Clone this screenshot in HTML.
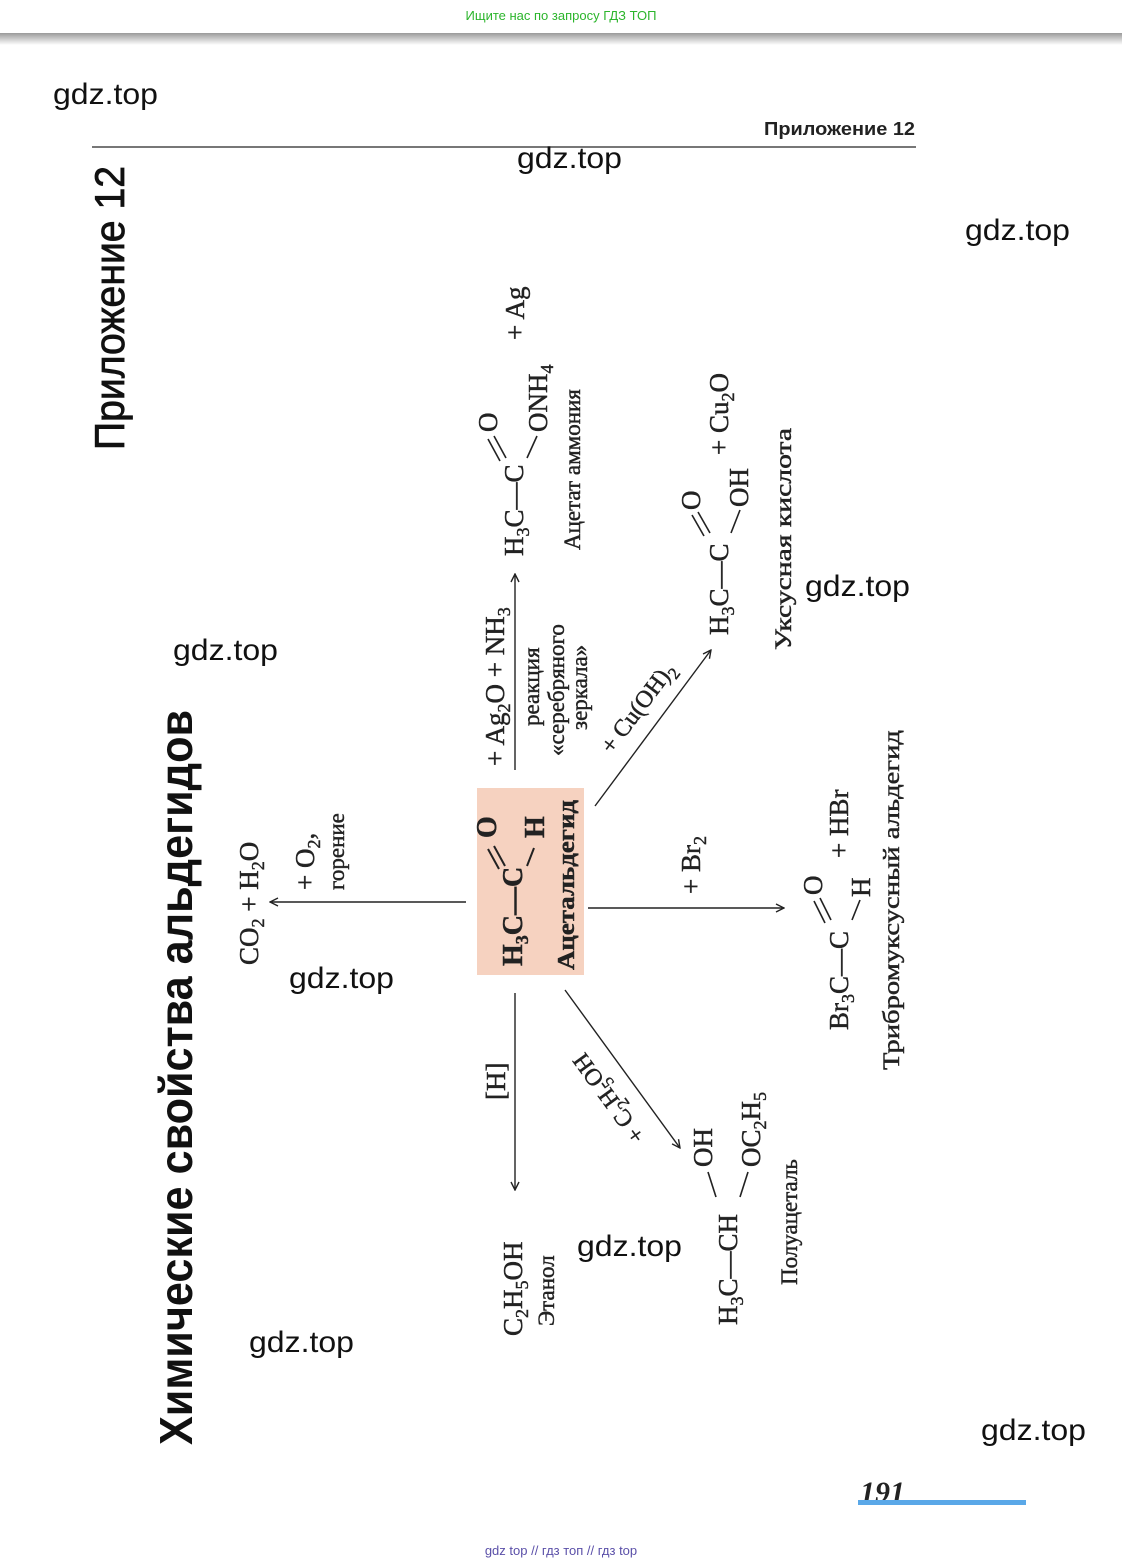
<!DOCTYPE html>
<html><head><meta charset="utf-8"><style>
html,body{margin:0;padding:0;background:#fff;}
body{width:1122px;height:1567px;position:relative;overflow:hidden;}
svg{position:absolute;left:0;top:0;}
.s{font-family:"Liberation Serif",serif;fill:#222;stroke:#222;stroke-width:0.45;}
.b{font-weight:bold;}
.w{font-family:"Liberation Sans",sans-serif;font-size:30px;fill:#111;}
</style></head><body>
<svg width="1122" height="1567" viewBox="0 0 1122 1567" xmlns="http://www.w3.org/2000/svg">
<defs>
<linearGradient id="sh" x1="0" y1="0" x2="0" y2="1"><stop offset="0" stop-color="#9a9a9a"/><stop offset="1" stop-color="#fff"/></linearGradient>
<marker id="ah" viewBox="0 0 10 10" refX="9" refY="5" markerWidth="10" markerHeight="10" orient="auto" markerUnits="userSpaceOnUse"><path d="M1,1 L9,5 L1,9" fill="none" stroke="#222" stroke-width="1.4"/></marker>
</defs>
<rect x="0" y="33" width="1122" height="12" fill="url(#sh)"/>
<text x="561" y="20" text-anchor="middle" font-family="Liberation Sans,sans-serif" font-size="13" fill="#2cb52c">Ищите нас по запросу ГДЗ ТОП</text>
<text x="561" y="1555" text-anchor="middle" font-family="Liberation Sans,sans-serif" font-size="13" fill="#5a4fa8">gdz top  //  гдз топ  //  гдз top</text>

<!-- header -->
<text x="764" y="135" font-family="Liberation Sans,sans-serif" font-weight="bold" font-size="18" fill="#222" textLength="151" lengthAdjust="spacingAndGlyphs">Приложение 12</text>
<line x1="92" y1="147" x2="916" y2="147" stroke="#777" stroke-width="2"/>
<text font-family="Liberation Sans,sans-serif" font-size="42" fill="#111" stroke="#111" stroke-width="0.8" transform="translate(124,450) rotate(-90)" textLength="284" lengthAdjust="spacingAndGlyphs">Приложение 12</text>
<text font-family="Liberation Sans,sans-serif" font-weight="bold" font-size="46" fill="#111" transform="translate(192,1445) rotate(-90)" textLength="735" lengthAdjust="spacingAndGlyphs">Химические свойства альдегидов</text>

<!-- page number -->
<text x="860" y="1502" font-family="Liberation Serif,serif" font-style="italic" font-weight="bold" font-size="30" fill="#222">191</text>
<rect x="858" y="1500" width="168" height="5" fill="#5aa8e8"/>

<!-- central box -->
<rect x="477" y="788" width="107" height="187" fill="#f6d2c0"/>
<g class="s b" font-size="28">
<text transform="translate(522,966) rotate(-90)">H<tspan font-size="18" dy="6">3</tspan><tspan dy="-6">C—C</tspan></text>
<text transform="translate(496,838) rotate(-90)">O</text>
<text transform="translate(544,838) rotate(-90)">H</text>
</g>
<line x1="505" y1="866" x2="494" y2="846" stroke="#222" stroke-width="2"/>
<line x1="499" y1="869" x2="488" y2="849" stroke="#222" stroke-width="2"/>
<line x1="527" y1="866" x2="534" y2="848" stroke="#222" stroke-width="2"/>
<text class="s b" font-size="24" transform="translate(574,970) rotate(-90)" textLength="170" lengthAdjust="spacingAndGlyphs">Ацетальдегид</text>

<!-- arrows -->
<g stroke="#222" stroke-width="1.4" fill="none" marker-end="url(#ah)">
<line x1="466" y1="902" x2="270" y2="902"/>
<line x1="515" y1="770" x2="515" y2="574"/>
<line x1="595" y1="806" x2="711" y2="650"/>
<line x1="588" y1="908" x2="784" y2="908"/>
<line x1="515" y1="993" x2="515" y2="1190"/>
<line x1="565" y1="990" x2="680" y2="1148"/>
</g>

<g class="s" font-size="27">
<text transform="translate(258,965) rotate(-90)">CO<tspan font-size="18" dy="6">2</tspan><tspan dy="-6"> + H</tspan><tspan font-size="18" dy="6">2</tspan><tspan dy="-6">O</tspan></text>
<text transform="translate(314,890) rotate(-90)">+ O<tspan font-size="18" dy="6">2</tspan><tspan dy="-6">,</tspan></text>
<text font-size="23" transform="translate(344,890) rotate(-90)">горение</text>

<text transform="translate(504,766) rotate(-90)">+ Ag<tspan font-size="18" dy="6">2</tspan><tspan dy="-6">O + NH</tspan><tspan font-size="18" dy="6">3</tspan></text>
<text font-size="23" transform="translate(539,726) rotate(-90)">реакция</text>
<text font-size="23" transform="translate(564,756) rotate(-90)">«серебряного</text>
<text font-size="23" transform="translate(587,730) rotate(-90)">зеркала»</text>
<text transform="translate(523,556) rotate(-90)">H<tspan font-size="18" dy="6">3</tspan><tspan dy="-6">C—C</tspan></text>
<text transform="translate(497,432) rotate(-90)">O</text>
<text transform="translate(547,432) rotate(-90)">ONH<tspan font-size="18" dy="6">4</tspan></text>
<text transform="translate(524,340) rotate(-90)">+ Ag</text>
<text font-size="23" transform="translate(580,550) rotate(-90)">Ацетат аммония</text>

<text font-size="24" transform="translate(612,755) rotate(-53)">+ Cu(OH)<tspan font-size="17" dy="6">2</tspan></text>
<text transform="translate(728,635) rotate(-90)">H<tspan font-size="18" dy="6">3</tspan><tspan dy="-6">C—C</tspan></text>
<text transform="translate(700,510) rotate(-90)">O</text>
<text transform="translate(748,507) rotate(-90)">OH</text>
<text transform="translate(728,455) rotate(-90)">+ Cu<tspan font-size="18" dy="6">2</tspan><tspan dy="-6">O</tspan></text>
<text font-size="23" transform="translate(791,650) rotate(-90)" textLength="222" lengthAdjust="spacingAndGlyphs">Уксусная кислота</text>

<text transform="translate(700,894) rotate(-90)">+ Br<tspan font-size="18" dy="6">2</tspan></text>
<text transform="translate(848,1030) rotate(-90)">Br<tspan font-size="18" dy="6">3</tspan><tspan dy="-6">C—C</tspan></text>
<text transform="translate(822,895) rotate(-90)">O</text>
<text transform="translate(870,897) rotate(-90)">H</text>
<text transform="translate(848,858) rotate(-90)">+ HBr</text>
<text font-size="23" transform="translate(899,1070) rotate(-90)" textLength="340" lengthAdjust="spacingAndGlyphs">Трибромуксусный альдегид</text>

<text transform="translate(505,1100) rotate(-90)">[H]</text>
<text transform="translate(522,1336) rotate(-90)">C<tspan font-size="18" dy="6">2</tspan><tspan dy="-6">H</tspan><tspan font-size="18" dy="6">5</tspan><tspan dy="-6">OH</tspan></text>
<text font-size="23" transform="translate(554,1326) rotate(-90)">Этанол</text>

<text font-size="24" transform="translate(646,1136) rotate(-126)">+ C<tspan font-size="17" dy="6">2</tspan><tspan dy="-6">H</tspan><tspan font-size="17" dy="6">5</tspan><tspan dy="-6">OH</tspan></text>
<text transform="translate(737,1325) rotate(-90)">H<tspan font-size="18" dy="6">3</tspan><tspan dy="-6">C—CH</tspan></text>
<text transform="translate(712,1167) rotate(-90)">OH</text>
<text transform="translate(760,1167) rotate(-90)">OC<tspan font-size="18" dy="6">2</tspan><tspan dy="-6">H</tspan><tspan font-size="18" dy="6">5</tspan></text>
<text font-size="23" transform="translate(797,1285) rotate(-90)">Полуацеталь</text>
</g>

<g stroke="#222" stroke-width="1.6">
<line x1="506" y1="458" x2="494" y2="436"/><line x1="500" y1="461" x2="488" y2="439"/>
<line x1="527" y1="458" x2="537" y2="436"/>
<line x1="710" y1="533" x2="698" y2="512"/><line x1="704" y1="536" x2="692" y2="515"/>
<line x1="731" y1="533" x2="740" y2="510"/>
<line x1="831" y1="920" x2="820" y2="898"/><line x1="825" y1="923" x2="814" y2="901"/>
<line x1="852" y1="920" x2="860" y2="900"/>
<line x1="716" y1="1197" x2="708" y2="1172"/>
<line x1="740" y1="1197" x2="748" y2="1172"/>
</g>

<g class="w">
<text x="53" y="104" textLength="105" lengthAdjust="spacingAndGlyphs">gdz.top</text>
<text x="517" y="168" textLength="105" lengthAdjust="spacingAndGlyphs">gdz.top</text>
<text x="965" y="240" textLength="105" lengthAdjust="spacingAndGlyphs">gdz.top</text>
<text x="805" y="596" textLength="105" lengthAdjust="spacingAndGlyphs">gdz.top</text>
<text x="173" y="660" textLength="105" lengthAdjust="spacingAndGlyphs">gdz.top</text>
<text x="289" y="988" textLength="105" lengthAdjust="spacingAndGlyphs">gdz.top</text>
<text x="577" y="1256" textLength="105" lengthAdjust="spacingAndGlyphs">gdz.top</text>
<text x="249" y="1352" textLength="105" lengthAdjust="spacingAndGlyphs">gdz.top</text>
<text x="981" y="1440" textLength="105" lengthAdjust="spacingAndGlyphs">gdz.top</text>
</g>
</svg>
</body></html>
